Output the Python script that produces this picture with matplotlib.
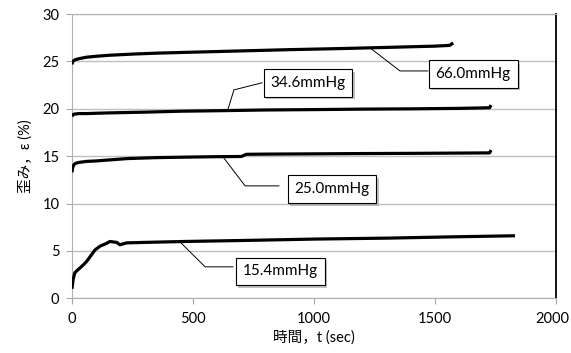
import matplotlib
matplotlib.use("Agg")
import matplotlib.pyplot as plt
import matplotlib.patheffects as pe
import matplotlib.transforms as mtransforms

plt.rcParams['font.family'] = ['Lato', 'Noto Sans CJK JP', 'DejaVu Sans']

# 圧力ごとの時間 (sec) と歪み (%)
t_66 = [0, 3, 8, 15, 30, 60, 100, 150, 250, 350, 450, 600, 750, 900, 1050,
        1200, 1350, 1500, 1560, 1570, 1575]
e_66 = [24.7, 24.95, 25.1, 25.2, 25.3, 25.45, 25.55, 25.65, 25.78, 25.88, 25.95,
        26.05, 26.15, 26.25, 26.33, 26.42, 26.52, 26.62, 26.7, 26.88, 26.95]

t_34 = [0, 3, 10, 30, 60, 120, 200, 300, 450, 600, 800, 1000, 1200, 1400,
        1600, 1700, 1725, 1731]
e_34 = [19.2, 19.35, 19.45, 19.5, 19.5, 19.55, 19.6, 19.65, 19.75, 19.8, 19.88,
        19.92, 19.97, 20.0, 20.05, 20.1, 20.12, 20.4]

t_25 = [0, 3, 8, 15, 30, 60, 100, 150, 230, 350, 470, 600, 700, 720, 800,
        1000, 1200, 1400, 1600, 1725, 1731]
e_25 = [13.3, 13.8, 14.1, 14.25, 14.35, 14.45, 14.5, 14.6, 14.75, 14.85, 14.9,
        14.95, 14.97, 15.2, 15.22, 15.25, 15.28, 15.3, 15.33, 15.35, 15.65]

t_15 = [0, 5, 12, 20, 33, 50, 61, 81, 95, 116, 143, 157, 170, 185, 198, 212,
        226, 300, 470, 700, 1000, 1300, 1600, 1830]
e_15 = [1.0, 2.0, 2.7, 2.9, 3.2, 3.6, 3.9, 4.6, 5.1, 5.5, 5.8, 6.0, 5.95, 5.9,
        5.65, 5.75, 5.85, 5.9, 6.0, 6.1, 6.25, 6.35, 6.5, 6.6]

labels = ['66.0mmHg', '34.6mmHg', '25.0mmHg', '15.4mmHg']
x_ticks = [0, 500, 1000, 1500, 2000]
y_ticks = [0, 5, 10, 15, 20, 25, 30]

fig = plt.figure(figsize=(5.71, 3.53), dpi=100)
ax = fig.add_axes([0.126, 0.155, 0.848, 0.805])

for t, e in [(t_66, e_66), (t_34, e_34), (t_25, e_25), (t_15, e_15)]:
    ax.plot(t, e, color='black', lw=2.3, solid_capstyle='butt', zorder=3)

ax.set_xlim(0, 2000)
ax.set_ylim(0, 30)
ax.set_xticks(x_ticks)
ax.set_yticks(y_ticks)
ax.grid(axis='y', color='#c0c0c0', lw=1)
ax.set_axisbelow(True)

for s in ['left', 'bottom', 'top']:
    ax.spines[s].set_color('#b0b0b0')
ax.spines['right'].set_color('black')
ax.spines['right'].set_linewidth(1.3)
ax.tick_params(axis='both', colors='#a6a6a6', labelcolor='black', labelsize=10.5,
               length=4, direction='out')
ax.tick_params(axis='y', pad=5)
ax.tick_params(axis='x', pad=6)

# 右端の "2000" が切れないように少し左へ
last = ax.get_xticklabels()[-1]
last.set_transform(last.get_transform() +
                   mtransforms.ScaledTranslation(-4 / 100, 0, fig.dpi_scale_trans))

ax.set_xlabel('時間，t (sec)', fontsize=10.5, labelpad=3)
ax.set_ylabel('歪み，ε (%)', fontsize=10.5, labelpad=7)

# 注記 (ラベル位置, 引出線)
notes = [
    (labels[0], (1657, 23.7), [(1231, 26.44), (1355, 24.0), (1470, 24.0)]),
    (labels[1], (975, 22.75), [(645, 19.99), (669, 22.0), (785, 22.75)]),
    (labels[2], (1074, 11.55), [(624, 14.93), (715, 11.87), (855, 11.87)]),
    (labels[3], (860, 2.84), [(446, 5.96), (550, 3.32), (665, 3.32)]),
]
for txt, pos, pts in notes:
    xs = [p[0] for p in pts]
    ys = [p[1] for p in pts]
    ax.plot(xs, ys, color='black', lw=0.7, zorder=4)
    tx = ax.text(pos[0], pos[1], txt, fontsize=11, ha='center', va='center', zorder=5,
                 bbox=dict(boxstyle='square,pad=0.45', fc='white', ec='black', lw=0.8))
    tx.get_bbox_patch().set_path_effects([
        pe.SimplePatchShadow(offset=(2, -2), shadow_rgbFace='#999999', alpha=0.6),
        pe.Normal()])

fig.savefig('out.png', dpi=100)
